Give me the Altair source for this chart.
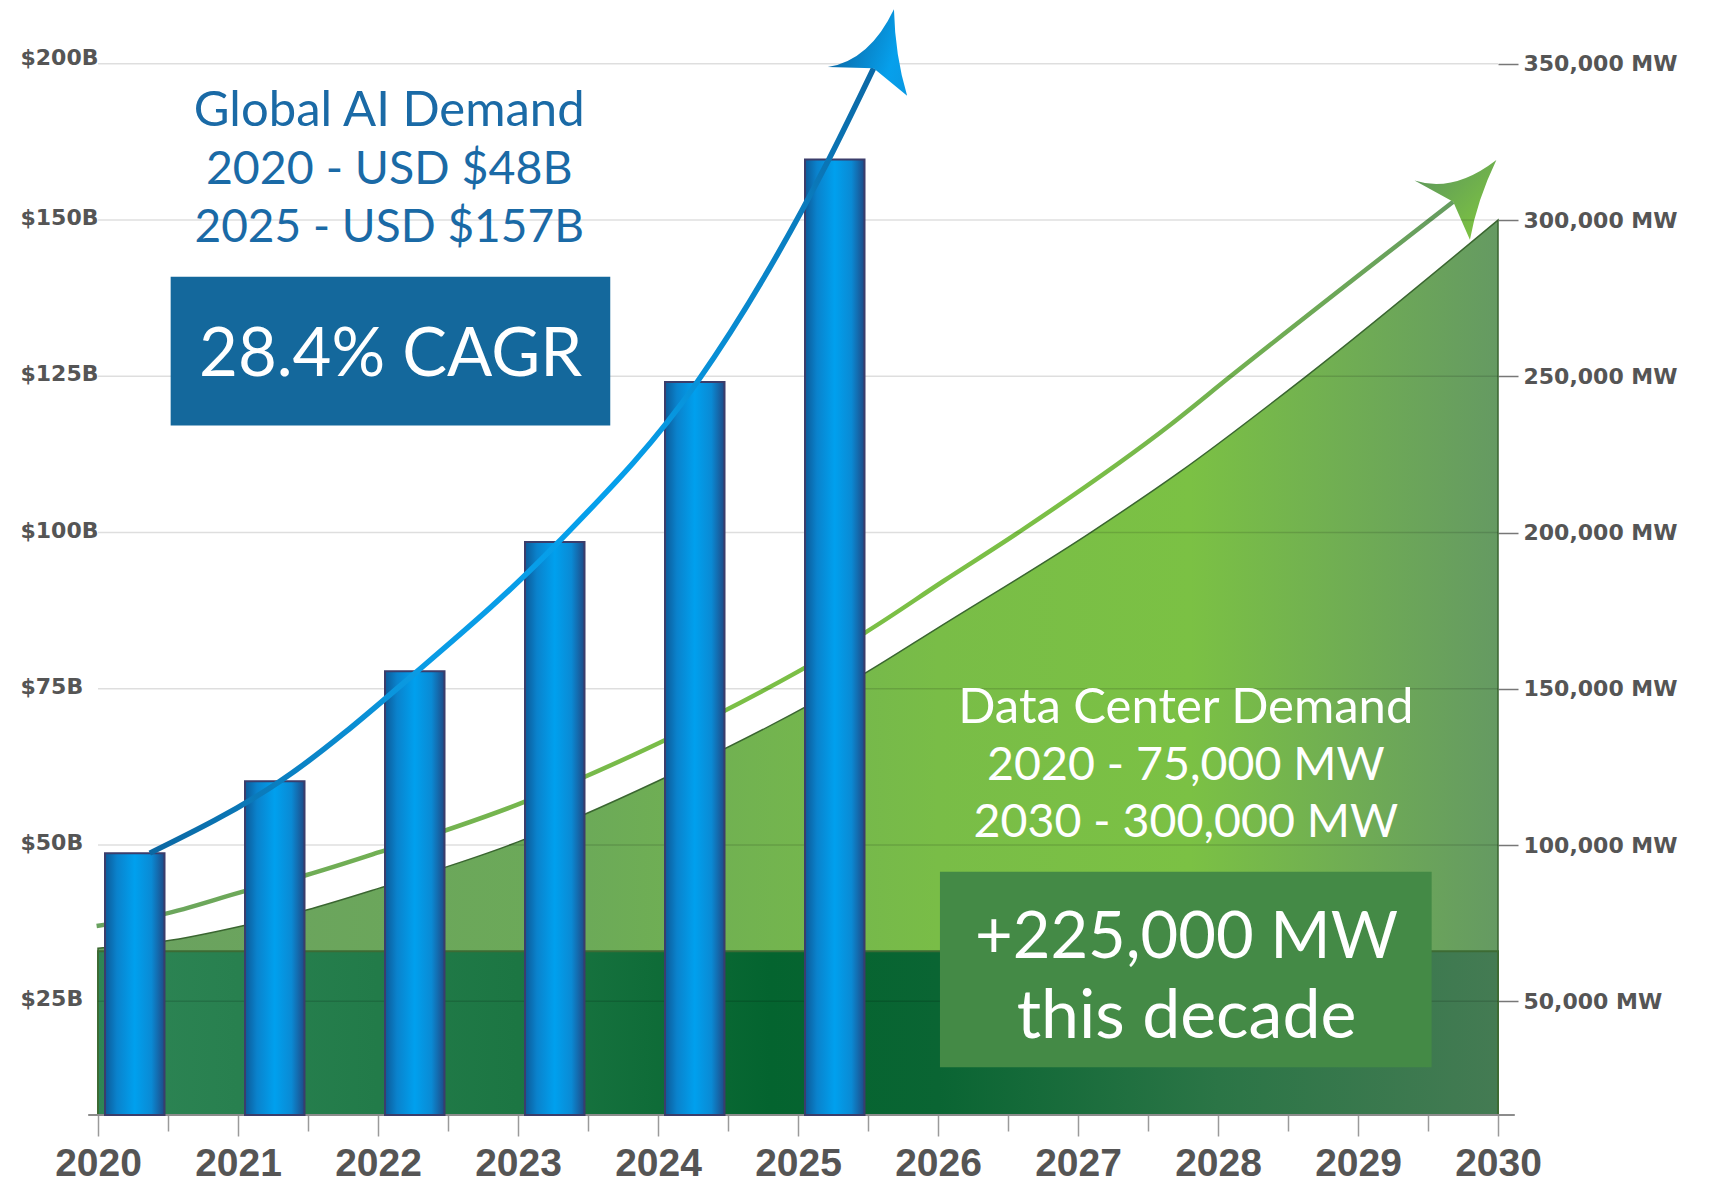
import altair as alt
import pandas as pd

# ---------------- data ----------------
bar_years = [2020, 2021, 2022, 2023, 2024, 2025]
ai_demand_busd = [48.7, 60.2, 77.8, 98.5, 124.1, 159.7]

ai_trend_year = [2020.37, 2021.30, 2022.28, 2023.29, 2024.28, 2025.22, 2025.54]
ai_trend_busd = [48.7, 60.2, 77.8, 98.5, 124.1, 159.7, 174.3]

dc_area_year = [2020.0, 2020.46, 2021.06, 2021.49, 2022.01, 2023.0, 2024.0,
                2025.48, 2026.0, 2027.09, 2027.73, 2028.63, 2030.0]
dc_area_mw = [67000, 69100, 74400, 79200, 86200, 101000, 120500,
              155000, 169500, 200000, 219500, 250000, 300000]

dc_trend_year = [2019.99, 2020.46, 2021.06, 2021.49, 2022.01, 2023.0, 2024.0,
                 2025.0, 2025.48, 2026.04, 2026.59, 2027.66, 2028.09, 2029.68]
dc_trend_mw = [74100, 77800, 85400, 90400, 97700, 113000, 132500,
               155500, 168000, 184500, 200500, 234500, 250000, 305900]

dc_floor_years = [2020, 2030]
dc_floor_mw = 66000

x_tick_years = list(range(2020, 2031))
x_minor_years = [y + 0.5 for y in range(2020, 2030)]
left_tick_values = [25, 50, 75, 100, 125, 150, 175]
left_tick_labels = ["$25B", "$50B", "$75B", "$100B", "$125B", "$150B", "$200B"]
right_tick_values = [50000, 100000, 150000, 200000, 250000, 300000, 350000]

ai_title = ["Global AI Demand", "2020 - USD $48B", "2025 - USD $157B"]
cagr_text = ["28.4% CAGR"]
dc_title = ["Data Center Demand", "2020 - 75,000 MW", "2030 - 300,000 MW"]
growth_text = ["+225,000 MW", "this decade"]

# ---------------- scales / layout ----------------
W, H = 1400, 1106
B_MIN, B_MAX = 6.8, 183.78
MW_PER_B = 2000

xs = alt.Scale(domain=[2020, 2030], nice=False, zero=False)
ysB = alt.Scale(domain=[B_MIN, B_MAX], nice=False, zero=False)
ysM = alt.Scale(domain=[B_MIN * MW_PER_B, B_MAX * MW_PER_B], nice=False, zero=False)

AX_GRAY = "#555555"

x_axis = alt.Axis(
    values=x_tick_years + x_minor_years,
    labelExpr="datum.value % 1 === 0 ? format(datum.value, 'd') : ''",
    tickSize={"condition": {"test": "datum.value % 1 === 0", "value": 21}, "value": 16},
    tickColor="#9a9a9a", tickWidth=1.5,
    domain=False, grid=False, title=None,
    labelFont="Liberation Sans, Arial, sans-serif", labelFontWeight="bold", labelFontSize=39,
    labelColor=AX_GRAY, labelPadding=8, labelFlush=False, labelOverlap=False,
)

right_axis = alt.Axis(
    orient="right", values=right_tick_values,
    labelExpr="format(datum.value, ',') + ' MW'",
    tickSize=20, tickColor="#777777", tickWidth=1.5,
    domain=False, grid=False, title=None,
    labelFont="DejaVu Sans, sans-serif", labelFontWeight="bold", labelFontSize=22,
    labelColor=AX_GRAY, labelPadding=5, labelBaseline="middle",
    labelFlush=False, labelOverlap=False,
)

label_lookup = "[" + ",".join("'" + s + "'" for s in left_tick_labels) + "]"
value_lookup = "[" + ",".join(str(v) for v in left_tick_values) + "]"
left_axis = alt.Axis(
    orient="left", values=left_tick_values,
    labelExpr=label_lookup + "[indexof(" + value_lookup + ", datum.value)]",
    ticks=False, tickSize=0, domain=False, grid=False, title=None,
    labelFont="DejaVu Sans, sans-serif", labelFontWeight="bold", labelFontSize=22,
    labelColor=AX_GRAY, labelAlign="left", labelPadding=78, labelBaseline="middle",
    labelOffset={"condition": {"test": "datum.value === 175", "value": -6}, "value": -2.5},
    labelFlush=False, labelOverlap=False,
)


def grad(stops, x1=0, y1=0, x2=1, y2=0):
    return alt.LinearGradient(
        gradient="linear", x1=x1, y1=y1, x2=x2, y2=y2,
        stops=[alt.GradientStop(offset=o, color=c) for o, c in stops],
    )


area_grad = grad([(0, "#6aa160"), (0.35, "#6caa58"), (0.6, "#79bd47"),
                  (0.78, "#7bc144"), (1, "#659a62")])
floor_grad = grad([(0, "#2e8555"), (0.3, "#1c7643"), (0.48, "#04642f"),
                   (0.6, "#0a6533"), (0.8, "#2b7546"), (1, "#447b53")])
gline_grad = grad([(0, "#69a25f"), (0.45, "#7bbf46"), (0.72, "#7bbf46"), (1, "#669c60")])
ghead_grad = grad([(0, "#5f9a5a"), (1, "#7cc242")])
bar_grad = grad([(0, "#0c5a98"), (0.2, "#0a82cc"), (0.5, "#00a0ee"),
                 (0.78, "#0a8ad4"), (1, "#1e4a86")])
bline_grad = grad([(0, "#0b67a2"), (0.3, "#0a9be4"), (0.55, "#05a0ec"),
                   (0.8, "#0a84c8"), (1, "#0b68a5")], x1=0, y1=1, x2=1, y2=0)
bhead_grad = grad([(0, "#0b6aa8"), (0.7, "#06a0ec"), (1, "#0a98e2")])

ARROW = "M0,-1 Q-0.1,-0.1 -0.7,0.22 L0,0 L0.65,0.24 Q0.26,-0.3 0,-1 Z"


def XR(field):
    return alt.X(field, scale=xs, axis=x_axis)


def YM(field):
    return alt.Y(field, scale=ysM, axis=right_axis)


def YB(field):
    return alt.Y(field, scale=ysB, axis=left_axis)


# ---------------- right (MW) group ----------------
area_df = pd.DataFrame({"x": dc_area_year, "mw": dc_area_mw})
area_df["base"] = B_MIN * MW_PER_B
area = alt.Chart(area_df).mark_area(
    interpolate="monotone", fill=area_grad, stroke="#3a6630", strokeWidth=1.5, opacity=1
).encode(x=XR("x:Q"), y=YM("mw:Q"), y2="base:Q")

floor_df = pd.DataFrame({"x0": [dc_floor_years[0]], "x1": [dc_floor_years[1]],
                         "top": [dc_floor_mw]})
floor_df["base"] = B_MIN * MW_PER_B
floor = alt.Chart(floor_df).mark_rect(
    fill=floor_grad, stroke="#3d6b34", strokeWidth=2, opacity=1
).encode(x=XR("x0:Q"), x2="x1:Q", y=YM("base:Q"), y2="top:Q")

gline_df = pd.DataFrame({"x": dc_trend_year, "mw": dc_trend_mw})
gline = alt.Chart(gline_df).mark_line(
    interpolate="monotone", stroke=gline_grad, strokeWidth=4.5, opacity=1
).encode(x=XR("x:Q"), y=YM("mw:Q"))

ghead = alt.Chart(gline_df.tail(1)).mark_point(
    shape=ARROW, size=14400, angle=46, filled=True, fill=ghead_grad,
    strokeWidth=0, opacity=1
).encode(x=XR("x:Q"), y=YM("mw:Q"))

right_group = alt.layer(area, floor, gline, ghead)

# ---------------- left ($B) group ----------------
grid_df = pd.DataFrame({"y": left_tick_values})
grid_df["x0"] = 2020
grid_df["x1"] = 2030
grid = alt.Chart(grid_df).mark_rule(
    stroke="black", strokeOpacity=0.13, strokeWidth=1.5
).encode(x=XR("x0:Q"), x2="x1:Q", y=YB("y:Q"))

baseline_df = pd.DataFrame({"x0": [2019.93], "x1": [2030.12], "y": [B_MIN]})
baseline = alt.Chart(baseline_df).mark_rule(stroke="#8c8c8c", strokeWidth=2).encode(
    x=XR("x0:Q"), x2="x1:Q", y=YB("y:Q"))

bars_df = pd.DataFrame({"year": bar_years, "value": ai_demand_busd})
bars = alt.Chart(bars_df).transform_calculate(
    x0="datum.year + 0.05", x1="datum.year + 0.475", base=str(B_MIN)
).mark_rect(
    fill=bar_grad, stroke="#3b3d6b", strokeWidth=2, opacity=1
).encode(x=XR("x0:Q"), x2="x1:Q", y=YB("base:Q"), y2="value:Q")

bline_df = pd.DataFrame({"x": ai_trend_year, "b": ai_trend_busd})
bline = alt.Chart(bline_df).mark_line(
    interpolate="monotone", stroke=bline_grad, strokeWidth=5.5, opacity=1
).encode(x=XR("x:Q"), y=YB("b:Q"))

bhead = alt.Chart(bline_df.tail(1)).mark_point(
    shape=ARROW, size=15625, angle=19, filled=True, fill=bhead_grad,
    strokeWidth=0, opacity=1
).encode(x=XR("x:Q"), y=YB("b:Q"))

# annotation boxes (placed in data coordinates)
boxes_df = pd.DataFrame({
    "x0": [2020.519, 2026.014], "x1": [2023.659, 2029.526],
    "y0": [117.13, 14.43], "y1": [140.94, 45.73],
    "c": ["#14689c", "#448a46"],
})
boxes = alt.Chart(boxes_df).mark_rect(opacity=1).encode(
    x=XR("x0:Q"), x2="x1:Q", y=YB("y0:Q"), y2="y1:Q",
    fill=alt.Fill("c:N", scale=None),
)


def text_layer(lines, x, ys, sizes, color):
    df = pd.DataFrame({"t": lines, "y": ys, "s": sizes})
    df["x"] = x
    return alt.Chart(df).mark_text(
        font="Lato", fill=color, align="center", baseline="alphabetic"
    ).encode(
        x=XR("x:Q"), y=YB("y:Q"), text="t:N",
        size=alt.Size("s:Q", scale=None, legend=None),
    )


t_ai = text_layer(ai_title, 2022.08, [165.1, 155.8, 146.5], [49, 46.5, 46], "#1a6aa6")
t_cagr = text_layer(cagr_text, 2022.09, [125.05], [67], "white")
t_dc = text_layer(dc_title, 2027.77, [69.5, 60.4, 51.3], [49, 46.5, 46.5], "white")
t_growth = text_layer(growth_text, 2027.775, [31.9, 19.1], [65, 68], "white")

left_group = alt.layer(grid, baseline, bars, bline, bhead, boxes,
                       t_ai, t_cagr, t_dc, t_growth)

chart = alt.layer(right_group, left_group).resolve_scale(
    y="independent"
).properties(
    width=W, height=H,
    autosize=alt.AutoSizeParams(type="none"),
    padding={"left": 90, "top": 1, "right": 190, "bottom": 71},
).configure_view(stroke=None)

chart.save("out.html", embed_options={"renderer": "svg", "actions": False})
